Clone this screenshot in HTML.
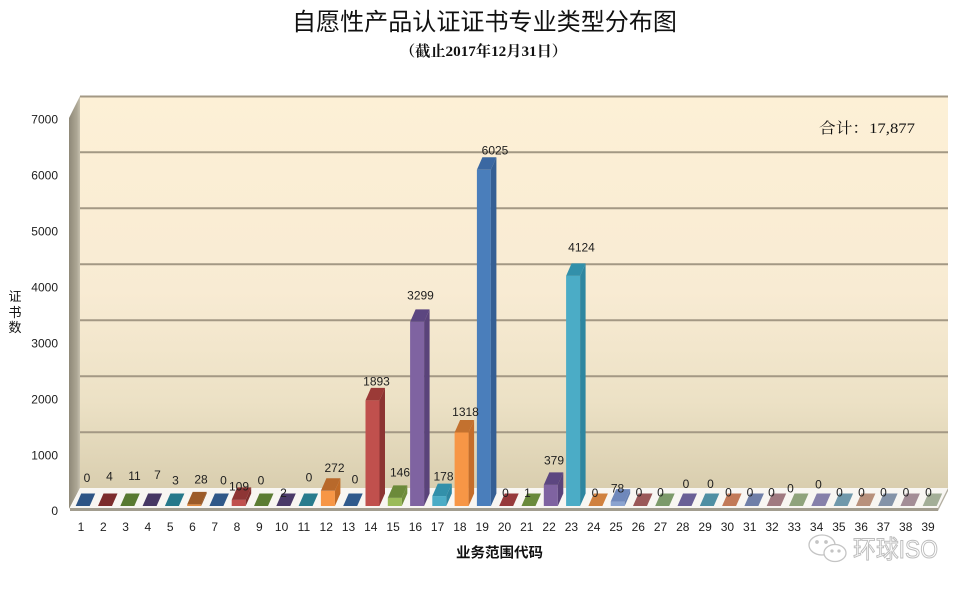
<!DOCTYPE html>
<html><head><meta charset="utf-8"><style>
html,body{margin:0;padding:0;background:#fff;}
svg{display:block;}
.t{font-family:"Liberation Sans",sans-serif;font-size:12px;fill:#1e1e1e;}
</style></head><body>
<svg width="972" height="592" viewBox="0 0 972 592" xmlns="http://www.w3.org/2000/svg">
<defs>
<linearGradient id="wall" x1="0" y1="0" x2="0" y2="1">
<stop offset="0" stop-color="#fdf0d6"/>
<stop offset="0.5" stop-color="#f8ebd3"/>
<stop offset="0.78" stop-color="#ece1c5"/>
<stop offset="1" stop-color="#d9ceaf"/>
</linearGradient>
<linearGradient id="lwall" x1="0" y1="0" x2="1" y2="0">
<stop offset="0" stop-color="#8f8978"/>
<stop offset="0.7" stop-color="#aca694"/>
<stop offset="1" stop-color="#c6c0ae"/>
</linearGradient>
</defs>
<rect width="972" height="592" fill="#fff"/>

<text x="292" y="30" textLength="385" lengthAdjust="spacingAndGlyphs" style="font-family:'Liberation Sans','Noto Sans CJK SC',sans-serif;font-size:24px;font-weight:normal;fill:#111;">自愿性产品认证证书专业类型分布图</text>
<text x="400" y="56" textLength="167" lengthAdjust="spacingAndGlyphs" style="font-family:'Liberation Serif','Noto Serif CJK SC',serif;font-size:15px;font-weight:bold;fill:#111;">（截止2017年12月31日）</text>

<rect x="80" y="96" width="868" height="392" fill="url(#wall)"/>
<polygon points="69,118 80,96 80,488 69,509" fill="url(#lwall)"/>
<g stroke="#a39884" stroke-width="2">
<line x1="80" y1="96.5" x2="948" y2="96.5"/>
<line x1="80" y1="152.3" x2="948" y2="152.3"/>
<line x1="80" y1="208.3" x2="948" y2="208.3"/>
<line x1="80" y1="264.3" x2="948" y2="264.3"/>
<line x1="80" y1="320.3" x2="948" y2="320.3"/>
<line x1="80" y1="376.3" x2="948" y2="376.3"/>
<line x1="80" y1="432.3" x2="948" y2="432.3"/>
</g>
<polygon points="80,488 948,488 938,508 70,508" fill="#f8f6f2"/>
<polygon points="70,508 938,508 938,511 70,511" fill="#a29d8f"/>
<polygon points="948,488 948,491 938,511 938,508" style="fill:#b3aea1"/>

<text x="867" y="133" textLength="96" lengthAdjust="spacingAndGlyphs" text-anchor="middle" style="font-family:'Liberation Serif','Noto Serif CJK SC',serif;font-size:15px;fill:#111;">合计：17,877</text>

<g>
<polygon points="75.7,506 89.7,506 95.2,493.5 81.2,493.5" fill="#2e5585"/>
<polygon points="98.0,506 112.0,506 117.5,493.5 103.5,493.5" fill="#7c2c2c"/>
<polygon points="120.3,506 134.3,506 139.8,493.5 125.8,493.5" fill="#587931"/>
<polygon points="142.6,506 156.6,506 162.1,493.5 148.1,493.5" fill="#463763"/>
<polygon points="164.9,506 178.9,506 184.4,493.5 170.4,493.5" fill="#26788a"/>
<polygon points="209.4,506 223.4,506 228.9,493.5 214.9,493.5" fill="#2f5888"/>
<polygon points="254.0,506 268.0,506 273.5,493.5 259.5,493.5" fill="#5b7c33"/>
<polygon points="276.3,506 290.3,506 295.8,493.5 281.8,493.5" fill="#4a3a68"/>
<polygon points="298.6,506 312.6,506 318.1,493.5 304.1,493.5" fill="#287b8d"/>
<polygon points="343.2,506 357.2,506 362.7,493.5 348.7,493.5" fill="#305a8c"/>
<polygon points="499.2,506 513.2,506 518.7,493.5 504.7,493.5" fill="#963a3b"/>
<polygon points="521.5,506 535.5,506 541.0,493.5 527.0,493.5" fill="#6a8a3c"/>
<polygon points="588.4,506 602.4,506 607.9,493.5 593.9,493.5" fill="#d0813f"/>
<polygon points="633.0,506 647.0,506 652.5,493.5 638.5,493.5" fill="#9a5858"/>
<polygon points="655.2,506 669.2,506 674.7,493.5 660.7,493.5" fill="#7c9a6a"/>
<polygon points="677.5,506 691.5,506 697.0,493.5 683.0,493.5" fill="#6a6096"/>
<polygon points="699.8,506 713.8,506 719.3,493.5 705.3,493.5" fill="#4f8fa3"/>
<polygon points="722.1,506 736.1,506 741.6,493.5 727.6,493.5" fill="#c27a58"/>
<polygon points="744.4,506 758.4,506 763.9,493.5 749.9,493.5" fill="#6f7fa8"/>
<polygon points="766.7,506 780.7,506 786.2,493.5 772.2,493.5" fill="#a07a80"/>
<polygon points="789.0,506 803.0,506 808.5,493.5 794.5,493.5" fill="#8fa37c"/>
<polygon points="811.3,506 825.3,506 830.8,493.5 816.8,493.5" fill="#8680aa"/>
<polygon points="833.6,506 847.6,506 853.1,493.5 839.1,493.5" fill="#6f98ab"/>
<polygon points="855.9,506 869.9,506 875.4,493.5 861.4,493.5" fill="#b8917c"/>
<polygon points="878.1,506 892.1,506 897.6,493.5 883.6,493.5" fill="#8493a8"/>
<polygon points="900.4,506 914.4,506 919.9,493.5 905.9,493.5" fill="#a38d96"/>
<polygon points="922.7,506 936.7,506 942.2,493.5 928.2,493.5" fill="#a3ae97"/>
</g>

<rect x="187.2" y="504.4" width="14" height="1.6" fill="#e08a3e"/>
<polygon points="201.2,504.4 206.7,491.9 206.7,493.5 201.2,506" fill="#8a5020"/>
<polygon points="187.2,504.4 192.7,491.9 206.7,491.9 201.2,504.4" fill="#9c5b28"/>
<rect x="231.7" y="499.9" width="14" height="6.1" fill="#c0504d"/>
<polygon points="245.7,499.9 251.2,487.4 251.2,493.5 245.7,506" fill="#7f2e2d"/>
<polygon points="231.7,499.9 237.2,487.4 251.2,487.4 245.7,499.9" fill="#8e3535"/>
<rect x="320.9" y="490.8" width="14" height="15.2" fill="#f79646"/>
<polygon points="334.9,490.8 340.4,478.3 340.4,493.5 334.9,506" fill="#c06a26"/>
<polygon points="320.9,490.8 326.4,478.3 340.4,478.3 334.9,490.8" fill="#b8692b"/>
<rect x="365.5" y="400.4" width="14" height="105.6" fill="#c0504d"/>
<polygon points="379.5,400.4 385.0,387.9 385.0,493.5 379.5,506" fill="#8c3432"/>
<polygon points="365.5,400.4 371.0,387.9 385.0,387.9 379.5,400.4" fill="#9b3a37"/>
<rect x="387.8" y="497.9" width="14" height="8.1" fill="#9bbb59"/>
<polygon points="401.8,497.9 407.3,485.4 407.3,493.5 401.8,506" fill="#6f8c3b"/>
<polygon points="387.8,497.9 393.3,485.4 407.3,485.4 401.8,497.9" fill="#6c8a3a"/>
<rect x="410.1" y="321.9" width="14" height="184.1" fill="#7f63a1"/>
<polygon points="424.1,321.9 429.6,309.4 429.6,493.5 424.1,506" fill="#5a437a"/>
<polygon points="410.1,321.9 415.6,309.4 429.6,309.4 424.1,321.9" fill="#5c4680"/>
<rect x="432.3" y="496.1" width="14" height="9.9" fill="#4bacc6"/>
<polygon points="446.3,496.1 451.8,483.6 451.8,493.5 446.3,506" fill="#2e86a0"/>
<polygon points="432.3,496.1 437.8,483.6 451.8,483.6 446.3,496.1" fill="#3290aa"/>
<rect x="454.6" y="432.5" width="14" height="73.5" fill="#f79646"/>
<polygon points="468.6,432.5 474.1,420.0 474.1,493.5 468.6,506" fill="#c46d2a"/>
<polygon points="454.6,432.5 460.1,420.0 474.1,420.0 468.6,432.5" fill="#c3712f"/>
<rect x="476.9" y="169.8" width="14" height="336.2" fill="#4a7ebb"/>
<polygon points="490.9,169.8 496.4,157.3 496.4,493.5 490.9,506" fill="#355f94"/>
<polygon points="476.9,169.8 482.4,157.3 496.4,157.3 490.9,169.8" fill="#3b68a2"/>
<rect x="543.8" y="484.9" width="14" height="21.1" fill="#7f63a1"/>
<polygon points="557.8,484.9 563.3,472.4 563.3,493.5 557.8,506" fill="#5a437a"/>
<polygon points="543.8,484.9 549.3,472.4 563.3,472.4 557.8,484.9" fill="#5c4680"/>
<rect x="566.1" y="275.9" width="14" height="230.1" fill="#4bacc6"/>
<polygon points="580.1,275.9 585.6,263.4 585.6,493.5 580.1,506" fill="#2e86a0"/>
<polygon points="566.1,275.9 571.6,263.4 585.6,263.4 580.1,275.9" fill="#3290aa"/>
<rect x="610.7" y="501.6" width="14" height="4.4" fill="#8aa3d0"/>
<polygon points="624.7,501.6 630.2,489.1 630.2,493.5 624.7,506" fill="#667fb0"/>
<polygon points="610.7,501.6 616.2,489.1 630.2,489.1 624.7,501.6" fill="#6f88bb"/>

<g class="t" text-anchor="end">
<text x="58" y="123.3">7000</text>
<text x="58" y="179.3">6000</text>
<text x="58" y="235.3">5000</text>
<text x="58" y="291.3">4000</text>
<text x="58" y="347.3">3000</text>
<text x="58" y="403.3">2000</text>
<text x="58" y="459.3">1000</text>
<text x="58" y="515">0</text>
</g>

<g style="font-family:'Liberation Sans','Noto Sans CJK SC',sans-serif;font-size:13px;fill:#111;" text-anchor="middle">
<text x="15" y="301">证</text>
<text x="15" y="317">书</text>
<text x="15" y="332">数</text>
</g>

<g class="t" text-anchor="middle">
<text x="81.0" y="531">1</text><text x="103.3" y="531">2</text><text x="125.6" y="531">3</text><text x="147.9" y="531">4</text><text x="170.2" y="531">5</text><text x="192.5" y="531">6</text><text x="214.7" y="531">7</text><text x="237.0" y="531">8</text><text x="259.3" y="531">9</text><text x="281.6" y="531">10</text><text x="303.9" y="531">11</text><text x="326.2" y="531">12</text><text x="348.5" y="531">13</text><text x="370.8" y="531">14</text><text x="393.1" y="531">15</text><text x="415.4" y="531">16</text><text x="437.6" y="531">17</text><text x="459.9" y="531">18</text><text x="482.2" y="531">19</text><text x="504.5" y="531">20</text><text x="526.8" y="531">21</text><text x="549.1" y="531">22</text><text x="571.4" y="531">23</text><text x="593.7" y="531">24</text><text x="616.0" y="531">25</text><text x="638.3" y="531">26</text><text x="660.5" y="531">27</text><text x="682.8" y="531">28</text><text x="705.1" y="531">29</text><text x="727.4" y="531">30</text><text x="749.7" y="531">31</text><text x="772.0" y="531">32</text><text x="794.3" y="531">33</text><text x="816.6" y="531">34</text><text x="838.9" y="531">35</text><text x="861.2" y="531">36</text><text x="883.4" y="531">37</text><text x="905.7" y="531">38</text><text x="928.0" y="531">39</text>
</g>

<g class="t" text-anchor="middle">
<text x="87" y="481.8">0</text>
<text x="109.5" y="480.3">4</text>
<text x="134.5" y="479.8">11</text>
<text x="157.5" y="478.8">7</text>
<text x="175.5" y="484.3">3</text>
<text x="201" y="483.3">28</text>
<text x="223.5" y="484.3">0</text>
<text x="239" y="490.3">109</text>
<text x="261" y="484.3">0</text>
<text x="283.5" y="496.8">2</text>
<text x="309" y="481.3">0</text>
<text x="334.5" y="471.8">272</text>
<text x="355" y="483.3">0</text>
<text x="376.5" y="385.3">1893</text>
<text x="400" y="476.3">146</text>
<text x="420.5" y="299.3">3299</text>
<text x="443.5" y="480.3">178</text>
<text x="465.5" y="415.8">1318</text>
<text x="495" y="154.3">6025</text>
<text x="505.5" y="496.8">0</text>
<text x="527.5" y="496.8">1</text>
<text x="554" y="464.3">379</text>
<text x="581.5" y="251.3">4124</text>
<text x="595" y="496.8">0</text>
<text x="617.5" y="492.3">78</text>
<text x="639" y="496.3">0</text>
<text x="660.5" y="496.3">0</text>
<text x="686" y="487.8">0</text>
<text x="710.5" y="487.8">0</text>
<text x="728.5" y="496.3">0</text>
<text x="750" y="496.3">0</text>
<text x="771.5" y="496.3">0</text>
<text x="790.5" y="492.3">0</text>
<text x="818.5" y="488.3">0</text>
<text x="839.5" y="496.3">0</text>
<text x="861.5" y="496.3">0</text>
<text x="883.5" y="496.3">0</text>
<text x="906" y="496.3">0</text>
<text x="928.5" y="496.3">0</text>
</g>

<text x="499.5" y="557.5" text-anchor="middle" textLength="87" lengthAdjust="spacingAndGlyphs" style="font-family:'Liberation Sans','Noto Sans CJK SC',sans-serif;font-size:14px;font-weight:bold;fill:#111;">业务范围代码</text>

<g fill="none" stroke="#c4c4c4" stroke-width="1.3">
<ellipse cx="822" cy="545" rx="13" ry="10"/>
<ellipse cx="835" cy="553" rx="11" ry="8.5" fill="#fff"/>
<circle cx="817" cy="542" r="1.2" fill="#c4c4c4"/>
<circle cx="826" cy="542" r="1.2" fill="#c4c4c4"/>
<circle cx="832" cy="551" r="1" fill="#c4c4c4"/>
<circle cx="839" cy="551" r="1" fill="#c4c4c4"/>
</g>
<text x="853" y="558" textLength="85" lengthAdjust="spacingAndGlyphs" style="font-family:'Liberation Sans','Noto Sans CJK SC',sans-serif;font-size:25px;fill:#fff;stroke:#bdbdbd;stroke-width:1;">环球ISO</text>
</svg>
</body></html>
